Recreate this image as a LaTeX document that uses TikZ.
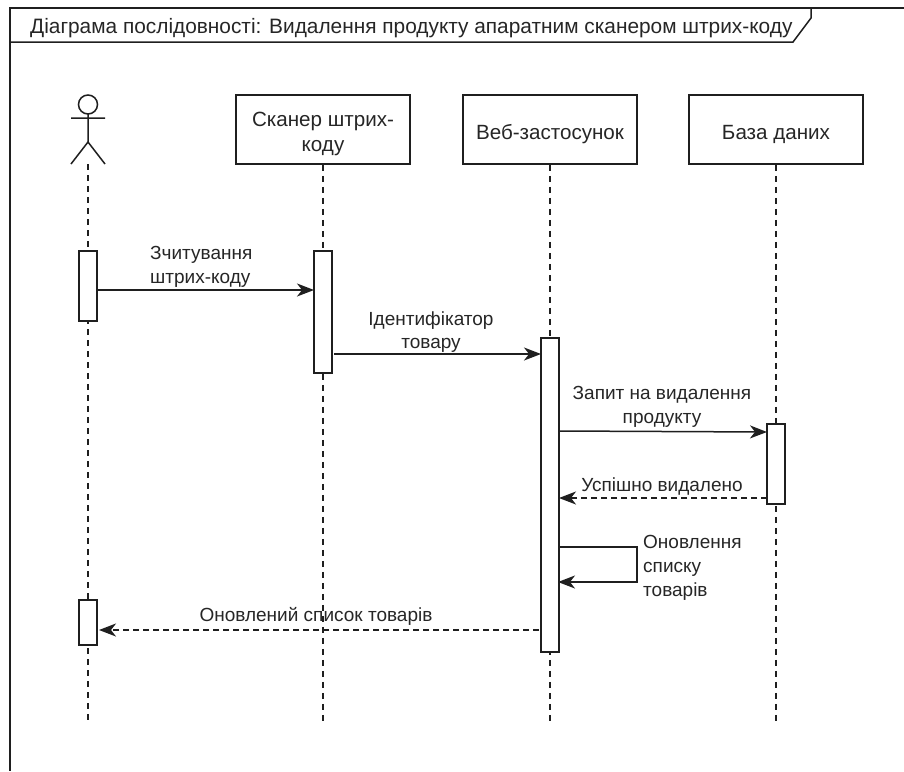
\documentclass[tikz,border=0pt]{standalone}
\usepackage{fontspec}
\setmainfont{Liberation Sans}
\usetikzlibrary{arrows.meta}
\tikzset{
  x=1pt,y=-1pt,
  frameline/.style={line width=1.5pt,black!88},
  obj/.style={draw=black!88,line width=1.5pt,fill=white,minimum width=174pt,minimum height=69pt,inner sep=2pt},
  objtext/.style={align=center,inner sep=0pt,font=\fontsize{20.6}{24.5}\selectfont,text=black!85,yshift=-4.5pt},
  act/.style={draw=black!88,line width=1.5pt,fill=white,minimum width=18pt,inner sep=0pt,outer sep=0pt},
  life/.style={line width=1.5pt,black!88,dash pattern=on 6pt off 5pt},
  msg/.style={line width=1.5pt,black!88,-{Stealth[length=17pt,width=13pt,inset=5pt]}},
  reply/.style={msg,dash pattern=on 6pt off 4pt},
  lab/.style={font=\fontsize{19}{23.7}\selectfont,text=black!85,inner sep=0pt,align=center},
  labl/.style={lab,align=left},
}
\begin{document}
\begin{tikzpicture}
\useasboundingbox (0,0) rectangle (904,771);
\fill[white] (0,0) rectangle (904,771);
% frame
\draw[frameline] (904,8) -- (10,8) -- (10,771);
\draw[frameline] (10,42) -- (793,42) -- (811,18) -- (811,8);
\node[anchor=west,inner sep=0pt,font=\fontsize{20.85}{24}\selectfont,text=black!85] (title) at (30,28.5) {Діаграма послідовності: Видалення продукту апаратним сканером штрих-коду};
% actor
\node[draw=black!88,line width=1.5pt,circle,minimum size=19pt,inner sep=0pt,outer sep=0pt] (head) at (88,104.5) {};
\coordinate (hip) at (88,142);
\coordinate (arml) at (71,118);
\coordinate (armr) at (105,118);
\coordinate (legl) at (71,164);
\coordinate (legr) at (105,164);
\coordinate (actorfoot) at (88,164);
\draw[line width=1.5pt,black!88] (head.south) -- (hip) (arml) -- (armr) (legl) -- (hip) -- (legr);
% objects
\node[obj,label={[objtext]center:Сканер штрих-\\коду}] (scan) at (323,129.5) {};
\node[obj,label={[objtext]center:Веб-застосунок}] (web) at (550,129.5) {};
\node[obj,label={[objtext]center:База даних}] (db) at (776,129.5) {};
% lifeline ends
\coordinate (e0) at (88,721);
\coordinate (e1) at (323,721);
\coordinate (e2) at (550,721);
\coordinate (e3) at (776,721);
\draw[life] (actorfoot) -- (e0);
\draw[life] (scan.south) -- (e1);
\draw[life] (web.south) -- (e2);
\draw[life] (db.south) -- (e3);
% activations
\node[act,minimum height=70pt] (a0) at (88,286) {};
\node[act,minimum height=45pt] (a0b) at (88,622.5) {};
\node[act,minimum height=122pt] (a1) at (323,312) {};
\node[act,minimum height=314pt] (a2) at (550,495) {};
\node[act,minimum height=80pt] (a3) at (776,464) {};
% messages
\draw[msg] (a0.east |- 0,290) -- (a1.west |- 0,290);
\draw[msg] ([xshift=2pt]a1.east |- 0,354) -- (a2.west |- 0,354);
\draw[msg] (a2.east |- 0,431) -- (a3.west |- 0,432);
\draw[reply] (a3.west |- 0,498) -- (a2.east |- 0,498);
\draw[msg] ([xshift=-1pt]a2.east |- 0,547) -- (637,547) -- (637,582) -- ([xshift=-1pt]a2.east |- 0,582);
\draw[reply] ([xshift=-2pt]a2.west |- 0,630) -- ([xshift=2pt]a0b.east |- 0,630);
% labels
\node[labl,anchor=west] (l1) at (150,267) {Зчитування\\штрих-коду};
\node[lab] (l2) at (431,332) {Ідентифікатор\\товару};
\node[lab] (l3) at (662,407) {Запит на видалення\\продукту};
\node[lab] (l4) at (662,486.5) {Успішно видалено};
\node[labl,anchor=west] (l5) at (643,568) {Оновлення\\списку\\товарів};
\node[lab] (l6) at (316,616) {Оновлений список товарів};
\end{tikzpicture}
\end{document}
